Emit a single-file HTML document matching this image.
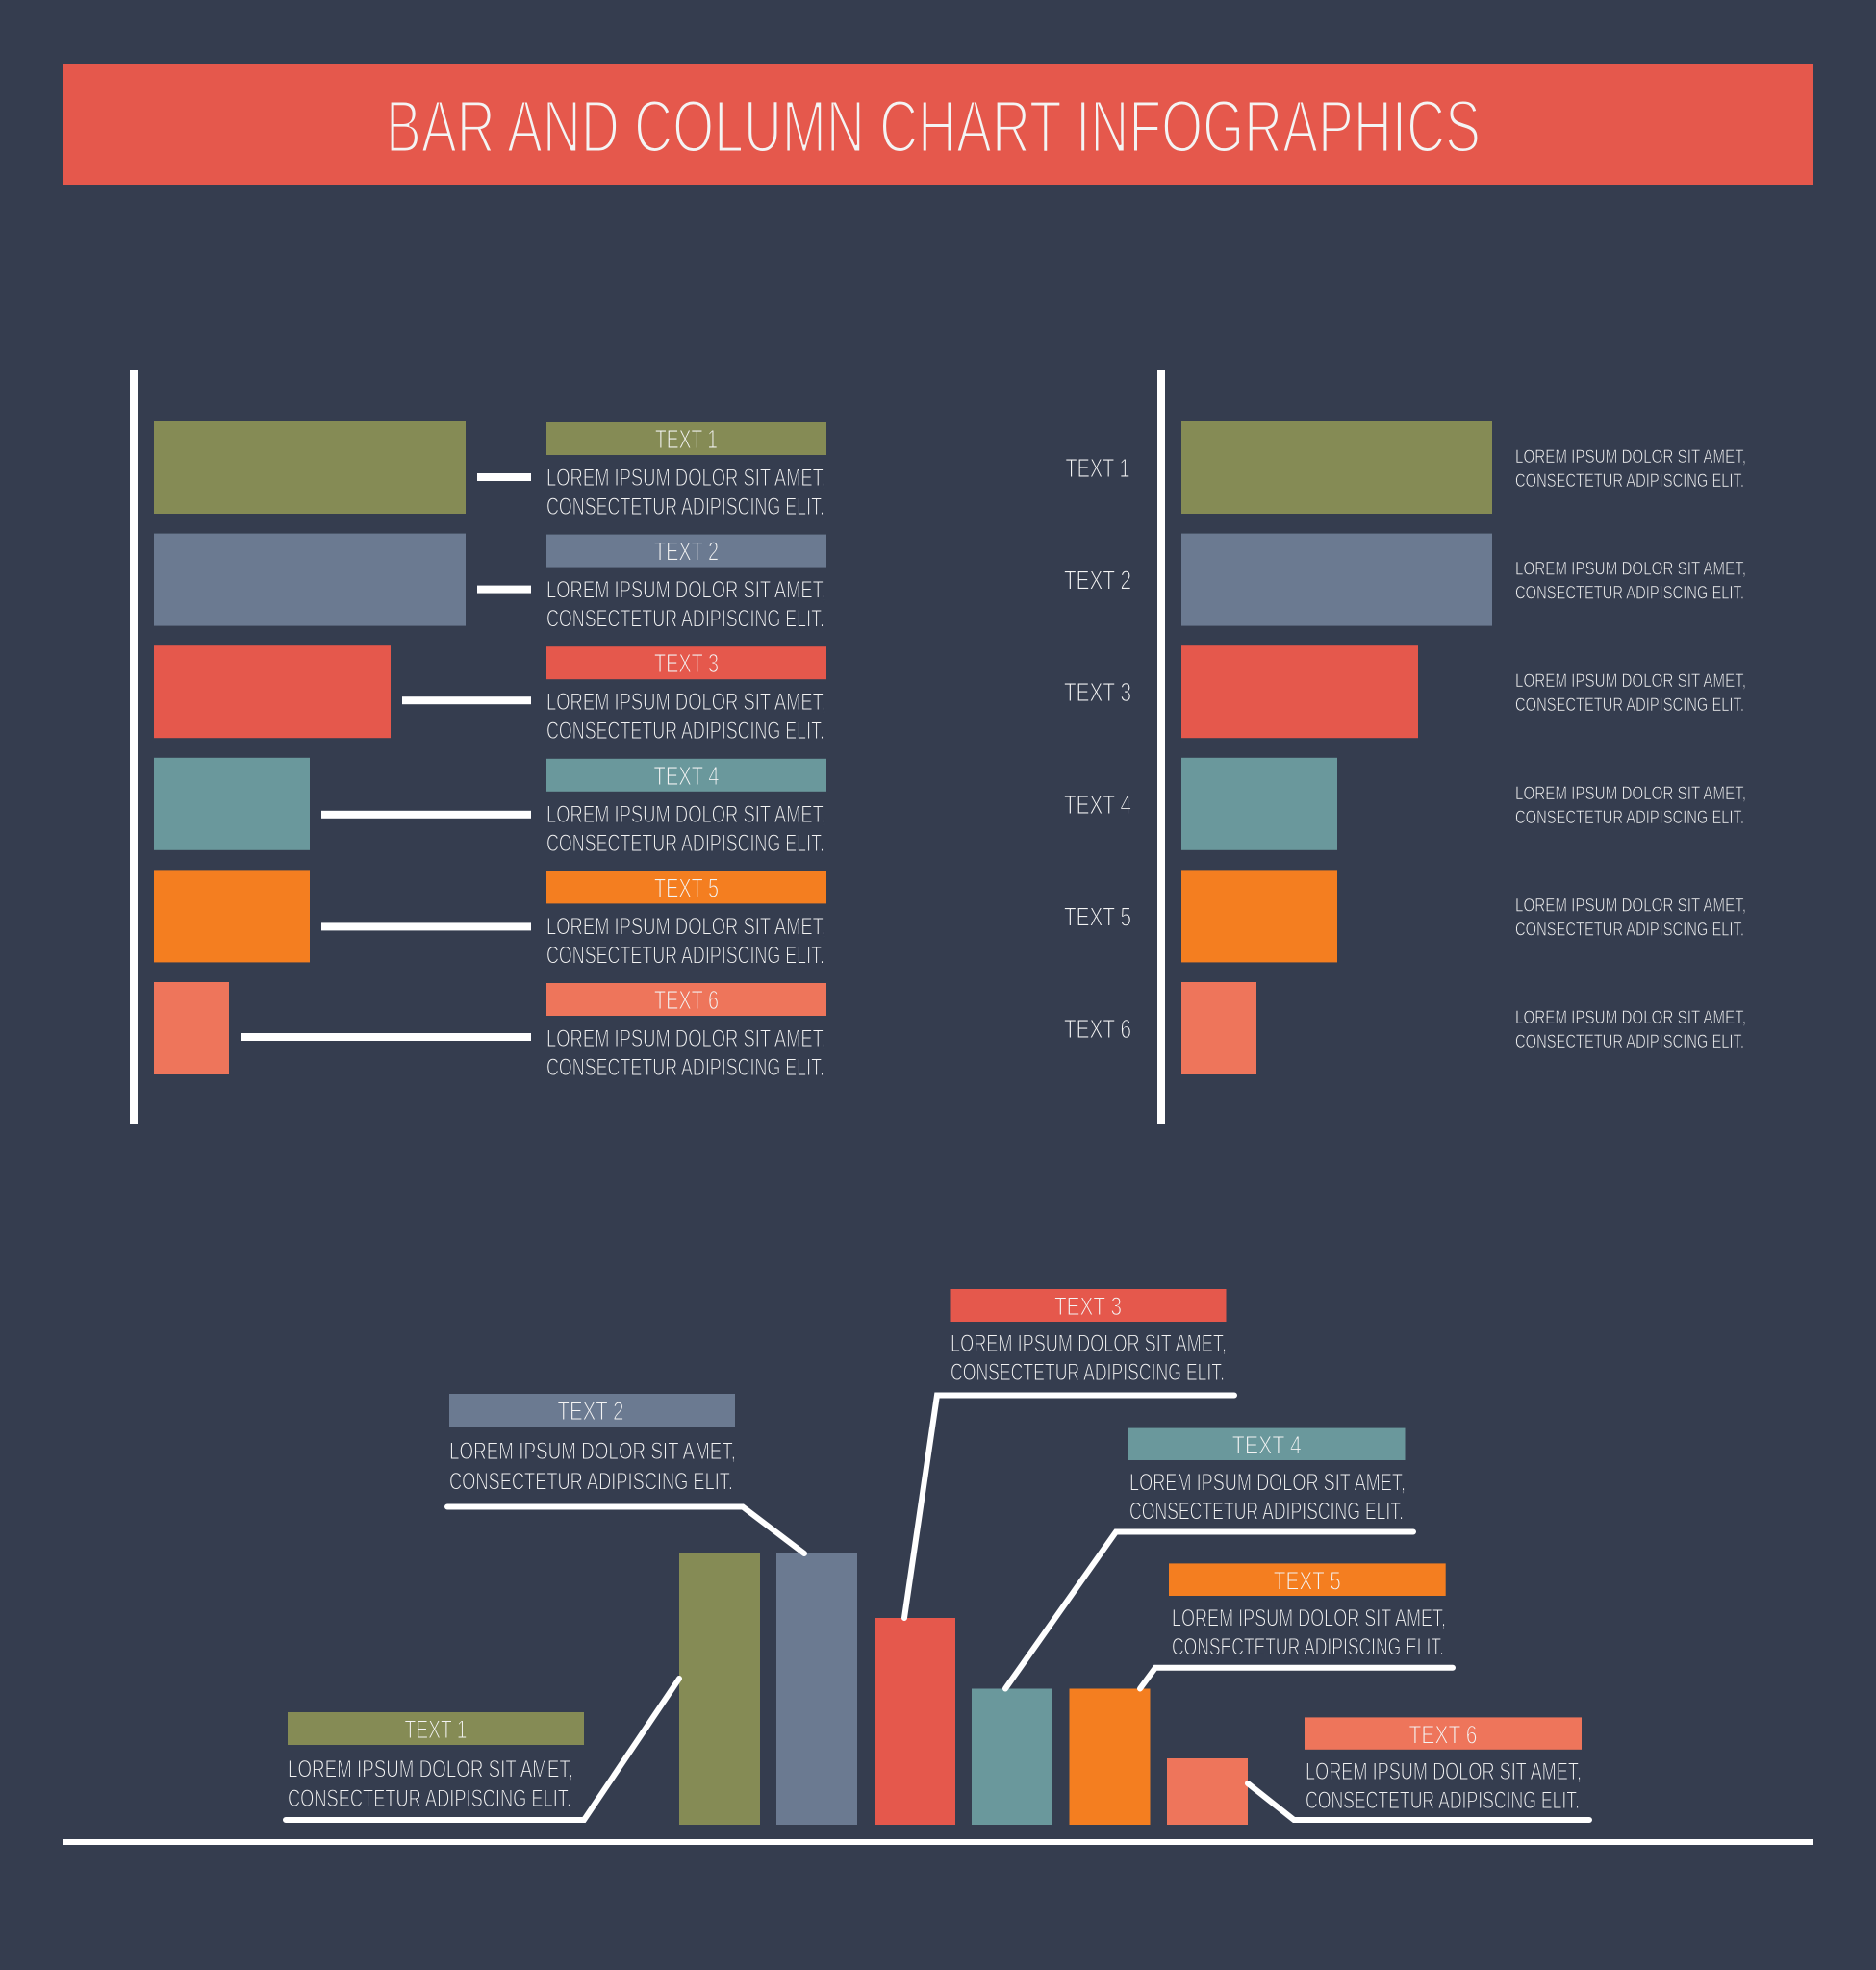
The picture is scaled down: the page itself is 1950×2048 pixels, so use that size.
<!DOCTYPE html>
<html>
<head>
<meta charset="utf-8">
<style>
  html, body { margin: 0; padding: 0; background: #353d4f; }
  svg { display: block; }
  text { font-family: "Liberation Sans", sans-serif; fill: #f4f4f4; paint-order: fill stroke; }
</style>
</head>
<body>
<svg width="1950" height="2048" viewBox="0 0 1950 2048" xmlns="http://www.w3.org/2000/svg">
  <rect x="0" y="0" width="1950" height="2048" fill="#353d4f"/>

  <!-- Header -->
  <rect x="65" y="67" width="1820" height="125" fill="#e5584c"/>
  <text x="401" y="158" font-size="77" textLength="1138" lengthAdjust="spacingAndGlyphs" stroke="#e5584c" stroke-width="3">BAR AND COLUMN CHART INFOGRAPHICS</text>

  <!-- ============ LEFT BAR CHART ============ -->
  <rect x="135" y="385" width="8" height="783" fill="#ffffff"/>

  <rect x="160" y="438" width="324" height="96" fill="#858b55"/>
  <rect x="160" y="554.6" width="324" height="96" fill="#6b7a91"/>
  <rect x="160" y="671.2" width="246" height="96" fill="#e5584c"/>
  <rect x="160" y="787.8" width="162" height="96" fill="#6a989c"/>
  <rect x="160" y="904.4" width="162" height="96" fill="#f47e20"/>
  <rect x="160" y="1021" width="78" height="96" fill="#ee755b"/>

  <rect x="496" y="492" width="56" height="8" fill="#ffffff"/>
  <rect x="496" y="608.6" width="56" height="8" fill="#ffffff"/>
  <rect x="418" y="724.2" width="134" height="8" fill="#ffffff"/>
  <rect x="334" y="842.8" width="218" height="8" fill="#ffffff"/>
  <rect x="334" y="959.4" width="218" height="8" fill="#ffffff"/>
  <rect x="251" y="1074" width="301" height="8" fill="#ffffff"/>

  <rect x="568" y="439" width="291" height="34" fill="#858b55"/>
  <rect x="568" y="555.6" width="291" height="34" fill="#6b7a91"/>
  <rect x="568" y="672.2" width="291" height="34" fill="#e5584c"/>
  <rect x="568" y="788.8" width="291" height="34" fill="#6a989c"/>
  <rect x="568" y="905.4" width="291" height="34" fill="#f47e20"/>
  <rect x="568" y="1022" width="291" height="34" fill="#ee755b"/>

  <g font-size="28" text-anchor="middle" stroke-width="1">
    <text x="713.5" y="466" textLength="65" lengthAdjust="spacingAndGlyphs" stroke="#858b55">TEXT 1</text>
    <text x="713.5" y="582.6" textLength="67" lengthAdjust="spacingAndGlyphs" stroke="#6b7a91">TEXT 2</text>
    <text x="713.5" y="699.2" textLength="67" lengthAdjust="spacingAndGlyphs" stroke="#e5584c">TEXT 3</text>
    <text x="713.5" y="815.8" textLength="68" lengthAdjust="spacingAndGlyphs" stroke="#6a989c">TEXT 4</text>
    <text x="713.5" y="932.4" textLength="67" lengthAdjust="spacingAndGlyphs" stroke="#f47e20">TEXT 5</text>
    <text x="713.5" y="1049" textLength="67" lengthAdjust="spacingAndGlyphs" stroke="#ee755b">TEXT 6</text>
  </g>

  <g font-size="25" stroke="#353d4f" stroke-width="0.9">
    <text x="568" y="505" textLength="291" lengthAdjust="spacingAndGlyphs">LOREM IPSUM DOLOR SIT AMET,</text>
    <text x="568" y="535" textLength="289" lengthAdjust="spacingAndGlyphs">CONSECTETUR ADIPISCING ELIT.</text>
    <text x="568" y="621.6" textLength="291" lengthAdjust="spacingAndGlyphs">LOREM IPSUM DOLOR SIT AMET,</text>
    <text x="568" y="651.6" textLength="289" lengthAdjust="spacingAndGlyphs">CONSECTETUR ADIPISCING ELIT.</text>
    <text x="568" y="738.2" textLength="291" lengthAdjust="spacingAndGlyphs">LOREM IPSUM DOLOR SIT AMET,</text>
    <text x="568" y="768.2" textLength="289" lengthAdjust="spacingAndGlyphs">CONSECTETUR ADIPISCING ELIT.</text>
    <text x="568" y="854.8" textLength="291" lengthAdjust="spacingAndGlyphs">LOREM IPSUM DOLOR SIT AMET,</text>
    <text x="568" y="884.8" textLength="289" lengthAdjust="spacingAndGlyphs">CONSECTETUR ADIPISCING ELIT.</text>
    <text x="568" y="971.4" textLength="291" lengthAdjust="spacingAndGlyphs">LOREM IPSUM DOLOR SIT AMET,</text>
    <text x="568" y="1001.4" textLength="289" lengthAdjust="spacingAndGlyphs">CONSECTETUR ADIPISCING ELIT.</text>
    <text x="568" y="1088" textLength="291" lengthAdjust="spacingAndGlyphs">LOREM IPSUM DOLOR SIT AMET,</text>
    <text x="568" y="1118" textLength="289" lengthAdjust="spacingAndGlyphs">CONSECTETUR ADIPISCING ELIT.</text>
  </g>

  <!-- ============ RIGHT BAR CHART ============ -->
  <rect x="1203" y="385" width="8" height="783" fill="#ffffff"/>

  <rect x="1228" y="438" width="323" height="96" fill="#858b55"/>
  <rect x="1228" y="554.6" width="323" height="96" fill="#6b7a91"/>
  <rect x="1228" y="671.2" width="246" height="96" fill="#e5584c"/>
  <rect x="1228" y="787.8" width="162" height="96" fill="#6a989c"/>
  <rect x="1228" y="904.4" width="162" height="96" fill="#f47e20"/>
  <rect x="1228" y="1021" width="78" height="96" fill="#ee755b"/>

  <g font-size="28" text-anchor="middle" stroke="#353d4f" stroke-width="1">
    <text x="1141" y="496" textLength="67" lengthAdjust="spacingAndGlyphs">TEXT 1</text>
    <text x="1141" y="612.6" textLength="70" lengthAdjust="spacingAndGlyphs">TEXT 2</text>
    <text x="1141" y="729.2" textLength="70" lengthAdjust="spacingAndGlyphs">TEXT 3</text>
    <text x="1141" y="845.8" textLength="70" lengthAdjust="spacingAndGlyphs">TEXT 4</text>
    <text x="1141" y="962.4" textLength="70" lengthAdjust="spacingAndGlyphs">TEXT 5</text>
    <text x="1141" y="1079" textLength="70" lengthAdjust="spacingAndGlyphs">TEXT 6</text>
  </g>

  <g font-size="19.5" stroke="#353d4f" stroke-width="0.6">
    <text x="1575" y="481" textLength="240" lengthAdjust="spacingAndGlyphs">LOREM IPSUM DOLOR SIT AMET,</text>
    <text x="1575" y="506" textLength="238" lengthAdjust="spacingAndGlyphs">CONSECTETUR ADIPISCING ELIT.</text>
    <text x="1575" y="597.6" textLength="240" lengthAdjust="spacingAndGlyphs">LOREM IPSUM DOLOR SIT AMET,</text>
    <text x="1575" y="622.6" textLength="238" lengthAdjust="spacingAndGlyphs">CONSECTETUR ADIPISCING ELIT.</text>
    <text x="1575" y="714.2" textLength="240" lengthAdjust="spacingAndGlyphs">LOREM IPSUM DOLOR SIT AMET,</text>
    <text x="1575" y="739.2" textLength="238" lengthAdjust="spacingAndGlyphs">CONSECTETUR ADIPISCING ELIT.</text>
    <text x="1575" y="830.8" textLength="240" lengthAdjust="spacingAndGlyphs">LOREM IPSUM DOLOR SIT AMET,</text>
    <text x="1575" y="855.8" textLength="238" lengthAdjust="spacingAndGlyphs">CONSECTETUR ADIPISCING ELIT.</text>
    <text x="1575" y="947.4" textLength="240" lengthAdjust="spacingAndGlyphs">LOREM IPSUM DOLOR SIT AMET,</text>
    <text x="1575" y="972.4" textLength="238" lengthAdjust="spacingAndGlyphs">CONSECTETUR ADIPISCING ELIT.</text>
    <text x="1575" y="1064" textLength="240" lengthAdjust="spacingAndGlyphs">LOREM IPSUM DOLOR SIT AMET,</text>
    <text x="1575" y="1089" textLength="238" lengthAdjust="spacingAndGlyphs">CONSECTETUR ADIPISCING ELIT.</text>
  </g>

  <!-- ============ BOTTOM COLUMN CHART ============ -->
  <rect x="65" y="1912" width="1820" height="6" fill="#ffffff"/>

  <rect x="706" y="1615" width="84" height="282" fill="#858b55"/>
  <rect x="807" y="1615" width="84" height="282" fill="#6b7a91"/>
  <rect x="909" y="1682" width="84" height="215" fill="#e5584c"/>
  <rect x="1010" y="1755.5" width="84" height="141.5" fill="#6a989c"/>
  <rect x="1111.5" y="1755.5" width="84" height="141.5" fill="#f47e20"/>
  <rect x="1213" y="1828" width="84" height="69" fill="#ee755b"/>

  <g fill="none" stroke="#ffffff" stroke-width="6" stroke-linecap="round" stroke-linejoin="miter">
    <path d="M297 1892 L607 1892 L706 1745"/>
    <path d="M465 1566.5 L772 1566.5 L836 1615"/>
    <path d="M940 1682 L974 1450.5 L1283 1450.5"/>
    <path d="M1045 1755.5 L1160 1592.5 L1469 1592.5"/>
    <path d="M1185 1755.5 L1201 1733.7 L1510 1733.7"/>
    <path d="M1297 1854 L1345 1892 L1652 1892"/>
  </g>

  <rect x="299" y="1780" width="308" height="34" fill="#858b55"/>
  <rect x="467" y="1449" width="297" height="35" fill="#6b7a91"/>
  <rect x="987.5" y="1340" width="287" height="34" fill="#e5584c"/>
  <rect x="1173" y="1484.6" width="287.5" height="33.4" fill="#6a989c"/>
  <rect x="1215" y="1625.4" width="287.7" height="33.6" fill="#f47e20"/>
  <rect x="1356" y="1785.4" width="288" height="33.4" fill="#ee755b"/>

  <g font-size="27" text-anchor="middle" stroke-width="1">
    <text x="453" y="1807" textLength="65" lengthAdjust="spacingAndGlyphs" stroke="#858b55">TEXT 1</text>
    <text x="614" y="1476" textLength="69" lengthAdjust="spacingAndGlyphs" stroke="#6b7a91">TEXT 2</text>
    <text x="1131" y="1367" textLength="70" lengthAdjust="spacingAndGlyphs" stroke="#e5584c">TEXT 3</text>
    <text x="1316.8" y="1511.6" textLength="72" lengthAdjust="spacingAndGlyphs" stroke="#6a989c">TEXT 4</text>
    <text x="1358.8" y="1652.4" textLength="70" lengthAdjust="spacingAndGlyphs" stroke="#f47e20">TEXT 5</text>
    <text x="1500" y="1812.4" textLength="71" lengthAdjust="spacingAndGlyphs" stroke="#ee755b">TEXT 6</text>
  </g>

  <g font-size="25" stroke="#353d4f" stroke-width="0.9">
    <text x="299" y="1847.5" textLength="297" lengthAdjust="spacingAndGlyphs">LOREM IPSUM DOLOR SIT AMET,</text>
    <text x="299" y="1878" textLength="295" lengthAdjust="spacingAndGlyphs">CONSECTETUR ADIPISCING ELIT.</text>

    <text x="467" y="1517" textLength="298" lengthAdjust="spacingAndGlyphs">LOREM IPSUM DOLOR SIT AMET,</text>
    <text x="467" y="1548.5" textLength="295" lengthAdjust="spacingAndGlyphs">CONSECTETUR ADIPISCING ELIT.</text>

    <text x="988" y="1405" textLength="287" lengthAdjust="spacingAndGlyphs">LOREM IPSUM DOLOR SIT AMET,</text>
    <text x="988" y="1435" textLength="285" lengthAdjust="spacingAndGlyphs">CONSECTETUR ADIPISCING ELIT.</text>

    <text x="1174" y="1549.6" textLength="287" lengthAdjust="spacingAndGlyphs">LOREM IPSUM DOLOR SIT AMET,</text>
    <text x="1174" y="1579.5" textLength="285" lengthAdjust="spacingAndGlyphs">CONSECTETUR ADIPISCING ELIT.</text>

    <text x="1218" y="1690.4" textLength="285" lengthAdjust="spacingAndGlyphs">LOREM IPSUM DOLOR SIT AMET,</text>
    <text x="1218" y="1720.3" textLength="283" lengthAdjust="spacingAndGlyphs">CONSECTETUR ADIPISCING ELIT.</text>

    <text x="1357" y="1850" textLength="287" lengthAdjust="spacingAndGlyphs">LOREM IPSUM DOLOR SIT AMET,</text>
    <text x="1357" y="1880" textLength="285" lengthAdjust="spacingAndGlyphs">CONSECTETUR ADIPISCING ELIT.</text>
  </g>
</svg>
</body>
</html>
